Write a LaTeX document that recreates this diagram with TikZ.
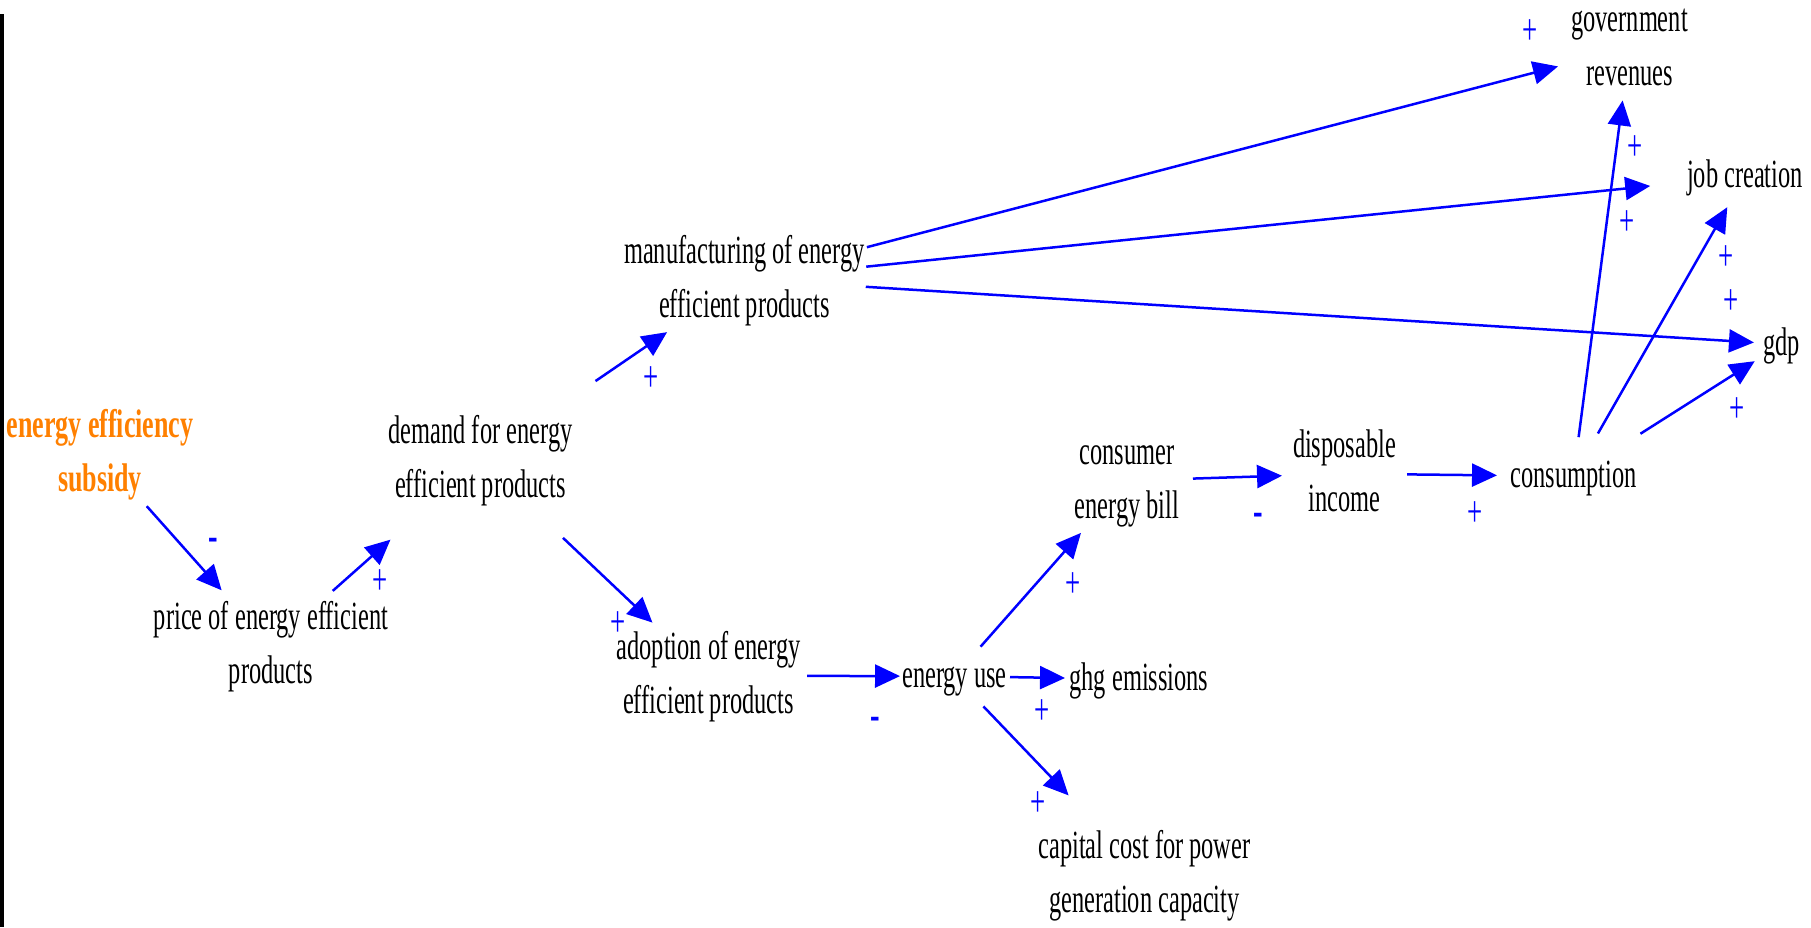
\documentclass[tikz,border=0pt]{standalone}
\usepackage{fontspec}
\newfontfamily\cond[FakeStretch=0.61]{Liberation Serif}
\newfontfamily\condb[FakeStretch=0.65]{Liberation Serif}
\usetikzlibrary{arrows.meta}
\definecolor{vblue}{RGB}{0,0,255}
\definecolor{vorange}{RGB}{255,128,0}
\begin{document}
\begin{tikzpicture}[x=1pt,y=-1pt,
  var/.style={font=\cond\fontsize{40}{54}\selectfont, align=center, inner sep=0pt, text=black},
  src/.style={var, font=\condb\bfseries\fontsize{40}{54}\selectfont, text=vorange},
  link/.style={draw=vblue, line width=2.5pt, -{Triangle[length=25pt,width=23pt]}},
  plussign/.style={font=\cond\fontsize{44}{54}\selectfont, text=vblue, inner sep=0pt, anchor=center},
  minussign/.style={font=\condb\bfseries\fontsize{44}{54}\selectfont, text=vblue, inner sep=0pt, anchor=base}
]
\fill[white] (0,0) rectangle (1811,927);
\useasboundingbox (0,0) rectangle (1811,927);
\fill[black] (0,14) rectangle (4,927);

% variables
\node[src] (subsidy) at (100,453.7) {\strut energy efficiency\\\strut subsidy};
\node[var] (price) at (271,645.7) {\strut price of energy efficient\\\strut products};
\node[var] (demand) at (480.5,459.7) {\strut demand for energy\\\strut efficient products};
\node[var] (manuf) at (744.5,279.2) {\strut manufacturing of energy\\\strut efficient products};
\node[var] (adopt) at (708.5,675.7) {\strut adoption of energy\\\strut efficient products};
\node[var] (use) at (954.5,676.2) {\strut energy use};
\node[var] (ghg) at (1139,679.2) {\strut ghg emissions};
\node[var] (capital) at (1144.5,874.7) {\strut capital cost for power\\\strut generation capacity};
\node[var] (bill) at (1127,480.7) {\strut consumer\\\strut energy bill};
\node[var] (income) at (1344.5,473.7) {\strut disposable\\\strut income};
\node[var] (consumption) at (1573.5,476.2) {\strut consumption};
\node[var] (gov) at (1629.5,47.7) {\strut government\\\strut revenues};
\node[var] (jobs) at (1745,176.2) {\strut job creation};
\node[var] (gdp) at (1781.5,344.2) {\strut gdp};

% links
\draw[link, shorten <=70.3pt, shorten >=74.2pt] (subsidy.center) -- (price.center);
\draw[link, shorten <=82.6pt, shorten >=120.4pt] (price.center) -- (demand.center);
\draw[link, shorten <=139.3pt, shorten >=93.8pt] (demand.center) -- (manuf.center);
\draw[link, shorten <=113.7pt, shorten >=77.2pt] (demand.center) -- (adopt.center);
\draw[link, shorten <=98.5pt, shorten >=54.5pt] (adopt.center) -- (use.center);
\draw[link, shorten <=55.5pt, shorten >=74pt] (use.center) -- (ghg.center);
\draw[link, shorten <=41.9pt, shorten >=109.8pt] (use.center) -- (capital.center);
\draw[link, shorten <=39.4pt, shorten >=69.6pt] (use.center) -- (bill.center);
\draw[link, shorten <=66pt, shorten >=62.5pt] (bill.center) -- (income.center);
\draw[link, shorten <=62.5pt, shorten >=76.5pt] (income.center) -- (consumption.center);
\draw[link, shorten <=126.5pt, shorten >=73.9pt] (manuf.center) -- (gov.center);
\draw[link, shorten <=122.4pt, shorten >=95.3pt] (manuf.center) -- (jobs.center);
\draw[link, shorten <=121.5pt, shorten >=27.6pt] (manuf.center) -- (gdp.center);
\draw[link, shorten <=39.4pt, shorten >=53.2pt] (consumption.center) -- (gov.center);
\draw[link, shorten <=49.2pt, shorten >=35.7pt] (consumption.center) -- (jobs.center);
\draw[link, shorten <=79.3pt, shorten >=31.7pt] (consumption.center) -- (gdp.center);

% polarities
\node[minussign] (n1) at (213,550) {-};
\node[minussign] (n2) at (875,729) {-};
\node[minussign] (n3) at (1258,525) {-};
\node[plussign] (p1) at (380,582) {+};
\node[plussign] (p2) at (651,379) {+};
\node[plussign] (p3) at (618,624) {+};
\node[plussign] (p4) at (1042,712) {+};
\node[plussign] (p5) at (1038,804) {+};
\node[plussign] (p6) at (1073,585) {+};
\node[plussign] (p7) at (1475,514) {+};
\node[plussign] (p8) at (1530,32) {+};
\node[plussign] (p9) at (1635,148) {+};
\node[plussign] (p10) at (1627,223) {+};
\node[plussign] (p11) at (1726,258) {+};
\node[plussign] (p12) at (1731,302) {+};
\node[plussign] (p13) at (1737,410) {+};
\end{tikzpicture}
\end{document}
